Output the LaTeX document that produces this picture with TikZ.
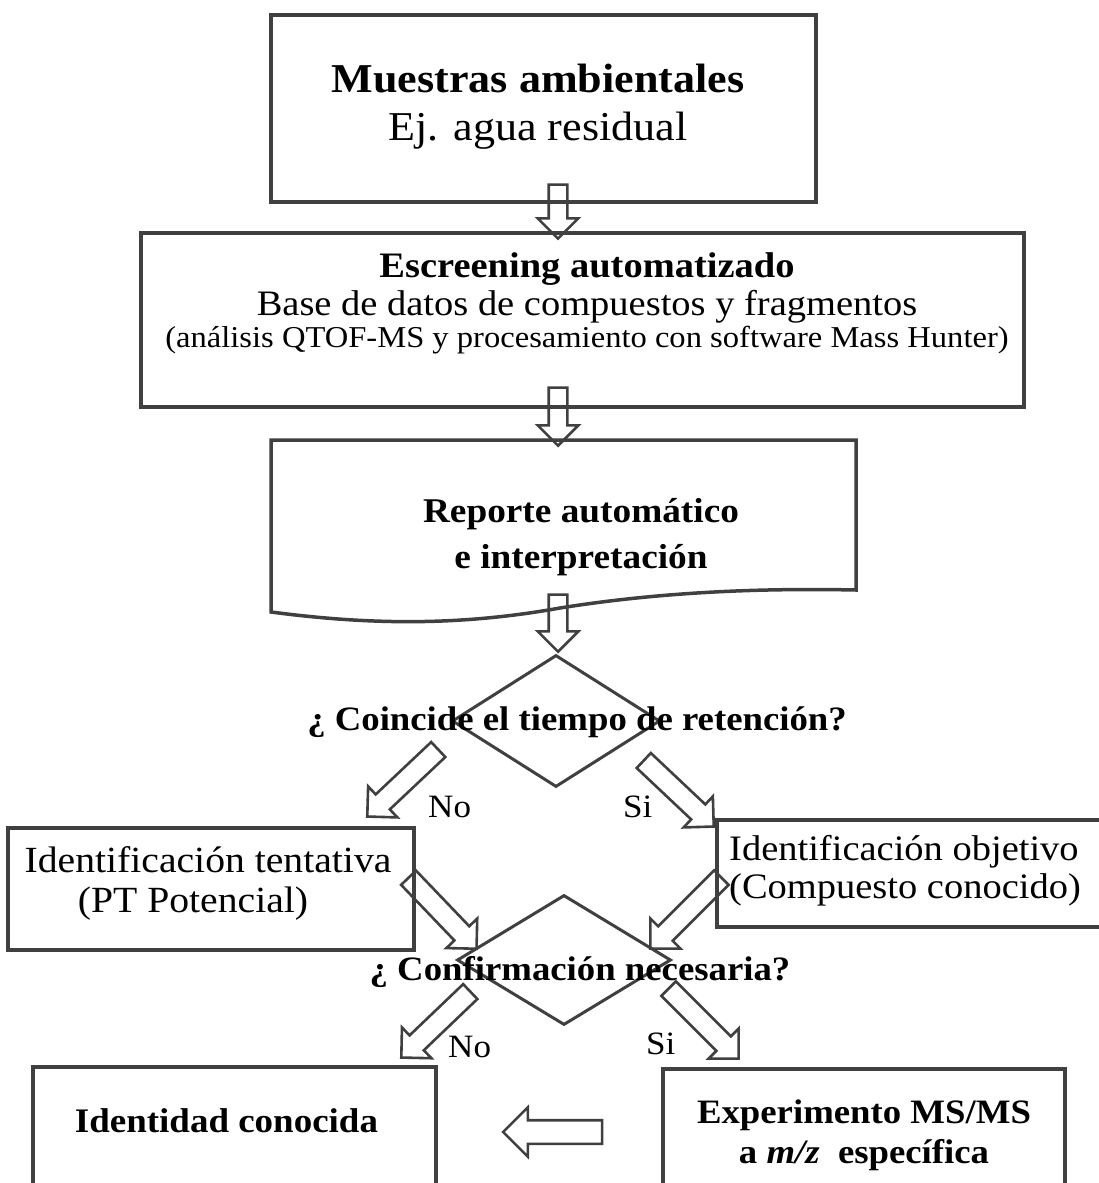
\documentclass[tikz,border=0pt]{standalone}
\usepackage{fontspec}
\setmainfont{Liberation Serif}[FakeStretch=1.075]
\usetikzlibrary{shapes.geometric,shapes.arrows,calc}

\definecolor{linegray}{HTML}{404040}

% hollow block arrow laid along the segment from #2 to #3
\newcommand\blockarrow[3][]{%
  \path let \p1=($(#3)-(#2)$), \n1={veclen(\x1,\y1)} in
    (#2) -- node[hollow arrow,sloped,allow upside down,minimum height=\n1,#1] {} (#3);}

\begin{document}
\begin{tikzpicture}[x=1pt,y=-1pt,
  boxline/.style={draw=linegray,line width=3.5pt},
  box/.style={boxline,rectangle,inner sep=0pt},
  question/.style={diamond,draw=linegray,line width=3pt,inner sep=0pt},
  hollow arrow/.style={single arrow,draw=linegray,line width=2.6pt,
    single arrow tip angle=90,single arrow head extend=11pt,
    inner xsep=0pt,inner ysep=8pt,minimum width=0pt,text height=0pt,text depth=0pt},
  slant/.style={inner ysep=9pt,single arrow head extend=11pt},
  txt/.style={inner sep=0pt,align=center},
  lbl/.style={inner sep=0pt,anchor=base west,font=\fontsize{32.6}{38}\selectfont}]

  \useasboundingbox (0,0) rectangle (1099,1183);
  \fill[white] (0,0) rectangle (1099,1183);
  \clip (0,0) rectangle (1099,1183);

  % boxes
  \node[box,minimum width=545,minimum height=187] (muestras) at (543.5,108.5) {};
  \node[box,minimum width=883,minimum height=174] (escreening) at (582.5,320) {};
  \draw[boxline] (271,440) -- (856,440) -- (856,590)
    .. controls (760,588) and (660,592) .. (560,608)
    .. controls (460,626) and (370,625) .. (271,612) -- cycle;
  \node[box,minimum width=406,minimum height=122] (tentativa) at (211,889) {};
  \node[box,minimum width=393,minimum height=107] (objetivo) at (913.5,873.5) {};
  \node[box,minimum width=403,minimum height=140] (identidad) at (234.5,1137) {};
  \node[box,minimum width=402,minimum height=140] (msms) at (864,1139) {};

  % decisions
  \node[question,minimum width=208,minimum height=132] (coincide) at (556,721) {};
  \node[question,minimum width=214,minimum height=130] (confirma) at (564,960) {};

  % arrow ends
  \coordinate (a1s) at (558,180);   \coordinate (a1e) at (558,234);
  \coordinate (a2s) at (558,383);   \coordinate (a2e) at (558,441);
  \coordinate (a3s) at (558,590);   \coordinate (a3e) at (558,647);
  \coordinate (n1s) at (442,746);   \coordinate (n1e) at (371,813);
  \coordinate (s1s) at (640,757);   \coordinate (s1e) at (710,823);
  \coordinate (tls) at (405,874);   \coordinate (tle) at (473,945);
  \coordinate (trs) at (725,874);   \coordinate (tre) at (654,945);
  \coordinate (n2s) at (474,988);   \coordinate (n2e) at (405,1054);
  \coordinate (s2s) at (665,985);   \coordinate (s2e) at (735,1055);
  \coordinate (hs) at (608,1132);   \coordinate (he) at (509,1132);

  \foreach \from/\to in {a1s/a1e,a2s/a2e,a3s/a3e}
    \blockarrow{\from}{\to};
  \foreach \from/\to in {n1s/n1e,s1s/s1e,tls/tle,trs/tre,n2s/n2e,s2s/s2e}
    \blockarrow[slant]{\from}{\to};
  \blockarrow[inner ysep=10.5pt,single arrow head extend=13pt]{hs}{he};

  % texts
  \node[txt,font=\fontsize{41}{48}\selectfont] (muestras-t) at (538,107)
    {\textbf{Muestras ambientales}\\Ej. agua residual};
  \node[txt,font=\fontsize{35.8}{38}\selectfont] (escreening-t) at (587,288)
    {\textbf{Escreening automatizado}\\Base de datos de compuestos y fragmentos};
  \node[txt,anchor=base,font=\fontsize{30.3}{34}\selectfont] (escreening-s) at (587,347)
    {(análisis QTOF-MS y procesamiento con software Mass Hunter)};
  \node[txt,font=\fontsize{34.7}{46}\selectfont\bfseries] (reporte) at (581,537)
    {Reporte automático\\e interpretación};
  \node[txt,anchor=base,font=\fontsize{34.2}{38}\selectfont\bfseries] (coincide-t) at (577,730)
    {¿ Coincide el tiempo de retención?};
  \node[lbl] (no1) at (428,817) {No};
  \node[lbl] (si1) at (623,817) {Si};
  \node[txt,font=\fontsize{36.9}{40}\selectfont] (tentativa-t) at (208,883)
    {Identificación tentativa\\(PT Potencial)\hspace*{30pt}};
  \node[txt,align=left,anchor=west,font=\fontsize{35.8}{38}\selectfont] (objetivo-t) at (729,871)
    {Identificación objetivo\\(Compuesto conocido)};
  \node[txt,anchor=base,font=\fontsize{34.2}{38}\selectfont\bfseries] (confirma-t) at (580,980)
    {¿ Confirmación necesaria?};
  \node[lbl] (no2) at (448,1057) {No};
  \node[lbl] (si2) at (646,1054) {Si};
  \node[txt,anchor=base,font=\fontsize{34.4}{38}\selectfont\bfseries] (identidad-t) at (226.5,1132)
    {Identidad conocida};
  \node[txt,font=\fontsize{34.2}{40}\selectfont\bfseries] (msms-t) at (864,1135)
    {Experimento MS/MS\\a \textit{m/z}\ \ específica};
\end{tikzpicture}
\end{document}
